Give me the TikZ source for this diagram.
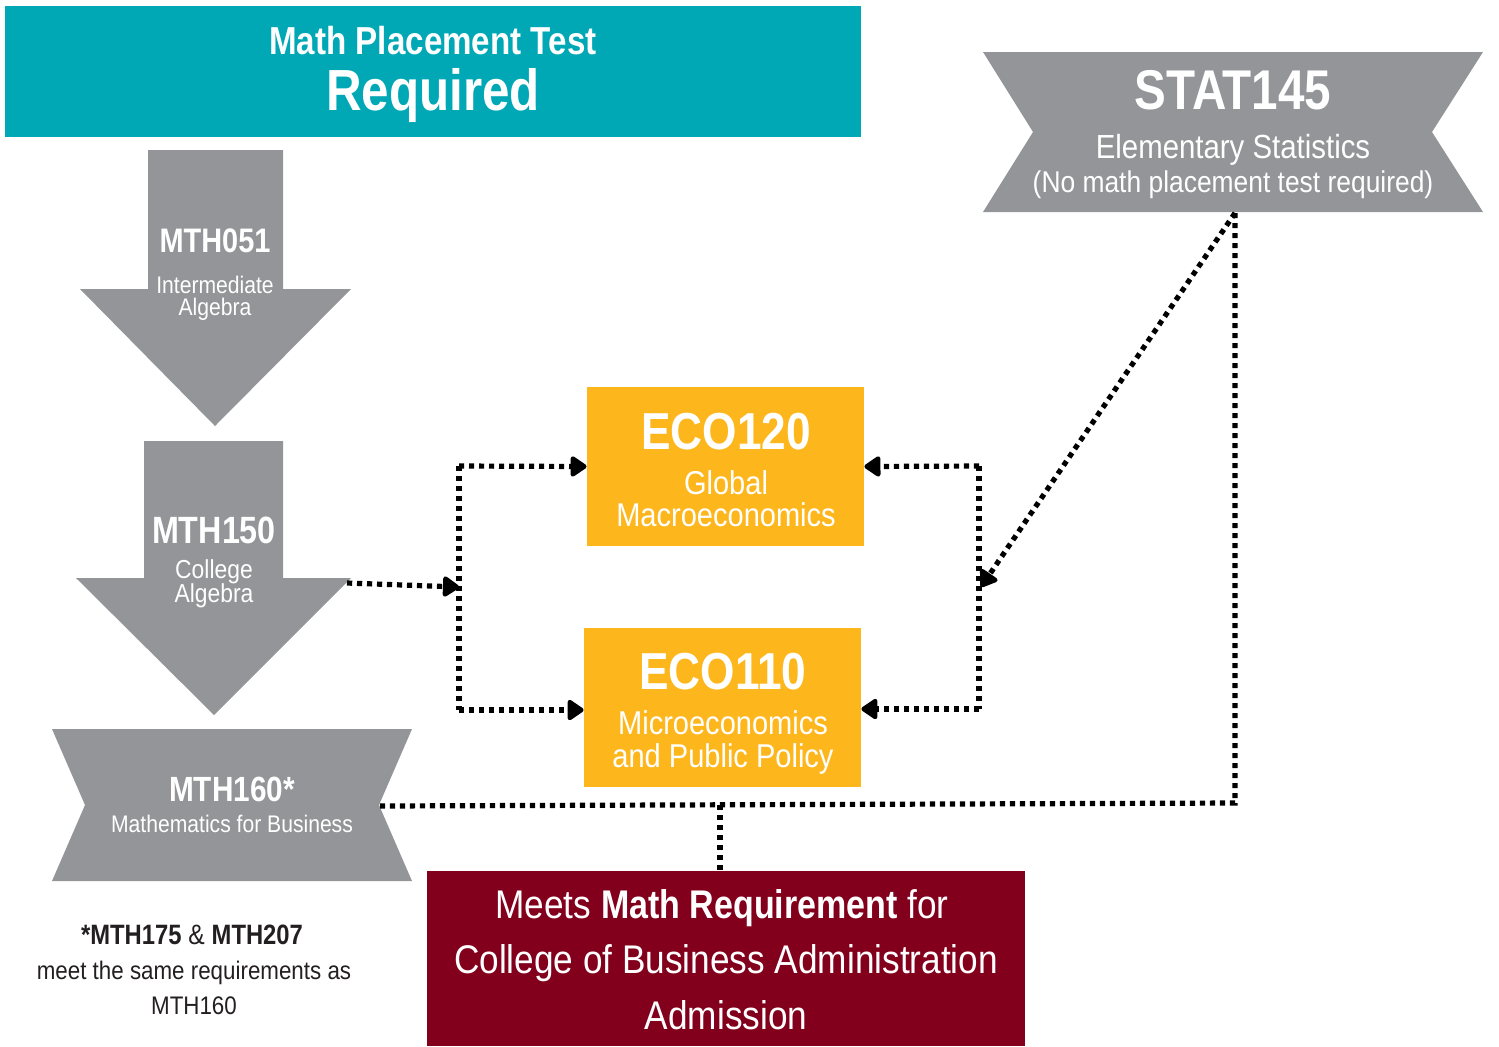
\documentclass[tikz,border=0pt]{standalone}
\usepackage{fontspec}
\setmainfont{Liberation Sans}[FakeStretch=0.88]
\newfontfamily\bfc{Liberation Sans}[FakeStretch=0.85]
\usetikzlibrary{arrows.meta}
\newcommand{\fsz}[1]{\fontsize{#1}{#1}\selectfont}
\definecolor{tealc}{RGB}{0,168,182}
\definecolor{grayc}{RGB}{147,149,152}
\definecolor{orangec}{RGB}{253,183,28}
\definecolor{redc}{RGB}{130,0,28}
\definecolor{inkc}{RGB}{35,31,32}
\tikzset{
  txt/.style={inner sep=0pt, anchor=base, text=white},
  ink/.style={inner sep=0pt, anchor=base, text=inkc},
  box/.style={inner sep=0pt, draw=none},
  dotline/.style={line width=2.6pt, dash pattern=on 2.6pt off 2.4pt, line cap=butt, black},
  dotarrow/.style={dotline, -{Triangle[length=9pt,width=11.5pt,round]}},
  hd/.style={font=\bfc\bfseries\fsz{#1}},
  rg/.style={font=\fsz{#1}}
}
\begin{document}
\begin{tikzpicture}[x=0.5pt,y=-0.5pt]
\useasboundingbox (0,0) rectangle (1499,1046);
% boxes
\node[box, fill=tealc, minimum width=428pt, minimum height=65.5pt] (teal) at (433,71.5) {};
\node[box, fill=orangec, minimum width=138.5pt, minimum height=79.5pt] (eco120) at (725.5,466.5) {};
\node[box, fill=orangec, minimum width=138.5pt, minimum height=79.5pt] (eco110) at (722.5,707.5) {};
\node[box, fill=redc, minimum width=299pt, minimum height=87.5pt] (red) at (726,958.5) {};
% gray shapes
\fill[grayc] (148,150) -- (283,150) -- (283,289) -- (351,289) -- (215,426) -- (80,289) -- (148,289) -- cycle;
\fill[grayc] (144,441) -- (283,441) -- (283,578) -- (351,578) -- (214,715) -- (76,578) -- (144,578) -- cycle;
\fill[grayc] (983,52) -- (1483,52) -- (1432,132) -- (1483,212) -- (983,212) -- (1033,132) -- cycle;
\fill[grayc] (52,729) -- (412,729) -- (379,805) -- (412,881) -- (52,881) -- (85,805) -- cycle;
% texts
\node[txt, hd=19.5] (t1) at (433,54) {Math Placement Test};
\node[txt, hd=29] (t2) at (433,110) {Required};
\node[txt, hd=28] (s1) at (1233,109) {STAT145};
\node[txt, rg=16.7] (s2) at (1233,158) {Elementary Statistics};
\node[txt, rg=15] (s3) at (1233,192) {(No math placement test required)};
\node[txt, hd=17] (a1) at (215,252) {MTH051};
\node[txt, rg=12] (a2) at (215,293) {Intermediate};
\node[txt, rg=12] (a3) at (215,315) {Algebra};
\node[txt, hd=19] (b1) at (214,543) {MTH150};
\node[txt, rg=13] (b2) at (214,578) {College};
\node[txt, rg=13] (b3) at (214,602) {Algebra};
\node[txt, hd=17.5] (c1) at (232,801) {MTH160*};
\node[txt, rg=12] (c2) at (232,832) {Mathematics for Business};
\node[ink, rg=14] (f1) at (192,944) {{\bfc\bfseries *MTH175} \& {\bfc\bfseries MTH207}};
\node[ink, rg=12.7] (f2) at (194,979) {meet the same requirements as};
\node[ink, rg=12.7] (f3) at (194,1014) {MTH160};
\node[txt, hd=26] (e1) at (726,449) {ECO120};
\node[txt, rg=16.5] (e2) at (726,494) {Global};
\node[txt, rg=16.5] (e3) at (726,526) {Macroeconomics};
\node[txt, hd=26] (g1) at (723,689) {ECO110};
\node[txt, rg=16.5] (g2) at (723,734) {Microeconomics};
\node[txt, rg=16.5] (g3) at (723,767) {and Public Policy};
\node[txt, rg=20] (r1) at (722,918) {Meets {\bfc\bfseries Math Requirement} for};
\node[txt, rg=20] (r2) at (726,973) {College of Business Administration};
\node[txt, rg=20] (r3) at (726,1029) {Admission};
% connector points
\coordinate (m150) at (347,583);
\coordinate (lj) at (459,587);
\coordinate (lt) at (459,466);
\coordinate (lb) at (459,710);
\coordinate (rt) at (979,466);
\coordinate (rb) at (979,709);
\coordinate (rj) at (981,587);
\coordinate (stb) at (1235,213);
\coordinate (stc) at (1235,803);
\coordinate (m160) at (380,806);
\coordinate (bj) at (720,805);
% connectors
\draw[dotline] (lt) -- (lb);
\draw[dotarrow] (m150) -- (lj);
\draw[dotarrow] (lt) -- (eco120.west);
\draw[dotarrow] (lb) -- (lb -| eco110.west);
\draw[dotline] (rt) -- (rb);
\draw[dotarrow] (rt) -- (eco120.east);
\draw[dotarrow] (rb) -- (rb -| eco110.east);
\draw[dotarrow] (stb) -- (rj);
\draw[dotline] (stb) -- (stc) -- (m160);
\draw[dotline] (bj) -- (bj |- red.north);
\end{tikzpicture}
\end{document}
